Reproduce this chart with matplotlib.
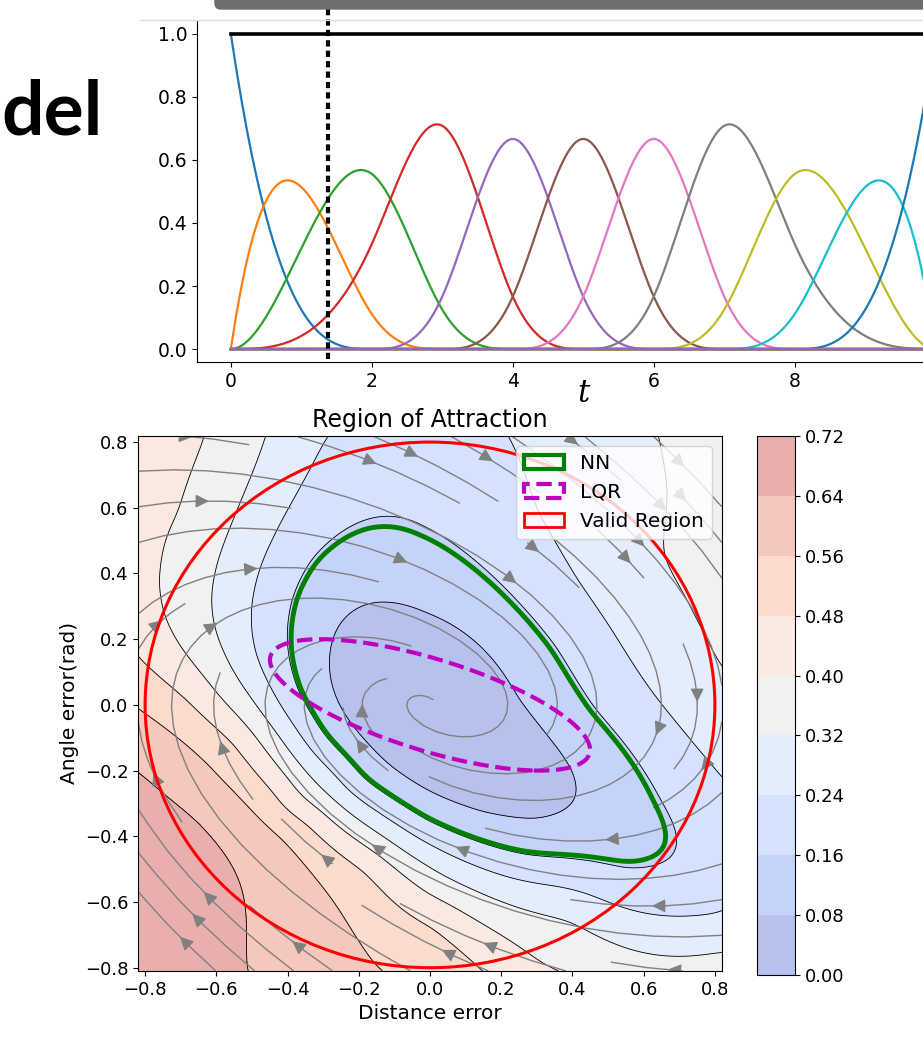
import numpy as np
import matplotlib.pyplot as plt
from matplotlib.patches import Patch, Circle, FancyBboxPatch
from matplotlib.lines import Line2D

# ---- top panel: cubic B-spline basis ----
knots = [0, 0, 0, 0, 2, 3, 4, 5, 6, 7, 8, 10, 10, 10, 10]
spline_deg = 3
t_cut = 1.38  # dashed marker

# ---- bottom panel: level curves (x, y) ----
levels = [0.0, 0.08, 0.16, 0.24, 0.32, 0.40, 0.48, 0.56, 0.64, 0.72]
lvl_008 = [(-0.118, 0.31), (-0.267, 0.228), (-0.28, 0.128), (-0.267, 0.024), (-0.16, -0.13),
           (-0.014, -0.26), (0.14, -0.33), (0.295, -0.36), (0.415, -0.29), (0.40, -0.19),
           (0.24, 0.006), (-0.014, 0.27)]
lvl_016 = [(-0.118, 0.57), (-0.23, 0.54), (-0.34, 0.45), (-0.39, 0.33), (-0.40, 0.21),
           (-0.38, 0.036), (-0.32, -0.106), (-0.20, -0.24), (-0.014, -0.355), (0.267, -0.46),
           (0.547, -0.52), (0.69, -0.47), (0.70, -0.41), (0.64, -0.29), (0.455, -0.015),
           (0.36, 0.18), (0.17, 0.40), (-0.014, 0.53)]
lvl_024 = [(-0.30, 0.82), (-0.44, 0.50), (-0.49, 0.35), (-0.50, 0.25), (-0.49, 0.146),
           (-0.43, 0.024), (-0.34, -0.106), (-0.26, -0.20), (-0.014, -0.42), (0.36, -0.55),
           (0.81, -0.66), (0.21, 0.82), (0.295, 0.58), (0.41, 0.38), (0.51, 0.23),
           (0.64, 0.015), (0.81, -0.22)]
lvl_032 = [(-0.46, 0.82), (-0.575, 0.50), (-0.60, 0.40), (-0.61, 0.30), (-0.58, 0.17),
           (-0.51, 0.036), (-0.42, -0.097), (-0.31, -0.25), (-0.014, -0.48), (0.40, -0.63),
           (0.81, -0.72), (0.645, 0.815), (0.63, 0.45), (0.735, 0.27), (0.81, 0.106)]
lvl_040 = [(-0.61, 0.82), (-0.69, 0.58), (-0.75, 0.50), (-0.77, 0.38), (-0.75, 0.27),
           (-0.70, 0.17), (-0.59, 0.015), (-0.47, -0.128), (-0.38, -0.29), (-0.26, -0.37),
           (-0.014, -0.58), (0.30, -0.80)]
lvl_048 = [(-0.81, 0.13), (-0.68, 0.024), (-0.54, -0.106), (-0.43, -0.25), (-0.33, -0.35),
           (-0.17, -0.49), (0.02, -0.66), (0.15, -0.80)]
lvl_056 = [(-0.81, -0.015), (-0.70, -0.106), (-0.59, -0.23), (-0.41, -0.40), (-0.30, -0.56),
           (-0.22, -0.69), (-0.17, -0.81)]
lvl_064 = [(-0.81, -0.21), (-0.75, -0.28), (-0.65, -0.35), (-0.55, -0.51), (-0.51, -0.65),
           (-0.51, -0.74), (-0.53, -0.81)]
# spot values (x, y, V)
spot_vals = [(0.0, 0.0, 0.0), (0.08, -0.08, 0.01), (-0.08, 0.08, 0.01), (0.15, -0.15, 0.03),
             (-0.81, -0.81, 0.70), (-0.81, -0.5, 0.69), (-0.65, -0.65, 0.67), (-0.4, -0.65, 0.60),
             (0.81, 0.81, 0.36), (0.81, 0.45, 0.34), (0.81, 0.3, 0.33), (0.81, -0.1, 0.27),
             (0.81, -0.45, 0.20), (0.81, -0.58, 0.21), (0.81, -0.81, 0.35), (0.55, -0.81, 0.36),
             (-0.81, 0.81, 0.44), (-0.81, 0.6, 0.43), (-0.81, 0.4, 0.43), (0.0, 0.81, 0.20),
             (0.4, 0.81, 0.27), (0.6, 0.65, 0.30)]

nn_level = 0.152
lqr_P = [[9.3, 14.3], [14.3, 47.0]]
valid_radius = 0.8
speed = 6.0
gains = [3.0, 3.0]


def bspline_basis(kn, deg, t):
    kn = np.asarray(kn, float)
    n = len(kn) - 1
    B = np.zeros((len(t), n))
    for i in range(n):
        B[:, i] = (t >= kn[i]) & (t < kn[i + 1])
    last = np.where(kn[:-1] < kn[-1])[0][-1]
    B[t >= kn[-1], last] = 1
    for d in range(1, deg + 1):
        Bn = np.zeros((len(t), n - d))
        for i in range(n - d):
            den1 = kn[i + d] - kn[i]
            den2 = kn[i + d + 1] - kn[i + 1]
            if den1 > 0:
                Bn[:, i] += (t - kn[i]) / den1 * B[:, i]
            if den2 > 0:
                Bn[:, i] += (kn[i + d + 1] - t) / den2 * B[:, i + 1]
        B = Bn
    return B


def tps_kernel(r):
    with np.errstate(divide='ignore', invalid='ignore'):
        k = r ** 2 * np.log(r)
    return np.nan_to_num(k)


def tps_surface(px, py, pv, gx, gy, smooth):
    # smoothing thin-plate spline through the read level points
    n = len(px)
    r = np.hypot(px[:, None] - px[None, :], py[:, None] - py[None, :])
    K = tps_kernel(r) + smooth * np.eye(n)
    P = np.column_stack([np.ones(n), px, py])
    M = np.zeros((n + 3, n + 3))
    M[:n, :n] = K
    M[:n, n:] = P
    M[n:, :n] = P.T
    rhs = np.concatenate([pv, np.zeros(3)])
    sol = np.linalg.solve(M, rhs)
    wts, a = sol[:n], sol[n:]
    fx_, fy_ = gx.ravel(), gy.ravel()
    out = np.empty(fx_.size)
    step = 20000
    for s in range(0, fx_.size, step):
        rr = np.hypot(fx_[s:s + step, None] - px[None, :], fy_[s:s + step, None] - py[None, :])
        out[s:s + step] = tps_kernel(rr) @ wts + a[0] + a[1] * fx_[s:s + step] + a[2] * fy_[s:s + step]
    return out.reshape(gx.shape)


W, H = 923, 1037
fig = plt.figure(figsize=(W / 100, H / 100), dpi=100)


def fx(px):
    return px / W


def fy(py):
    return 1 - py / H


# slide decorations
fig.patches.append(FancyBboxPatch((fx(215), fy(9)), 1.0, 0.02,
                                  boxstyle='round,pad=0,rounding_size=0.006',
                                  transform=fig.transFigure, color='#6e6e6e'))
fig.add_artist(Line2D([fx(140), 1], [fy(20), fy(20)], color='#dcdcdc', lw=1, zorder=5))
fig.text(fx(1), fy(134), 'del', ha='left', va='baseline', fontsize=54,
         fontweight='bold', family='Lato')

# ---------------- top: basis functions ----------------
ax1 = fig.add_axes([fx(197), fy(362), fx(923) - fx(197), fy(20) - fy(362)])
t = np.linspace(0, 10, 801)
Bs = bspline_basis(knots, spline_deg, t)
Bfull = np.zeros((len(t), len(knots)))
Bfull[:, :Bs.shape[1]] = Bs
for i in range(Bfull.shape[1]):
    ax1.plot(t, Bfull[:, i], lw=1.6)
ax1.plot(t, Bs.sum(axis=1), color='k', lw=2.6)
ax1.plot([t_cut, t_cut], [-0.03, 1.09], color='k', lw=3, ls=(0, (1.5, 1.0)), clip_on=False)
ax1.set_xlim(-0.48, 9.82)
ax1.set_ylim(-0.041, 1.044)
ax1.set_xticks([0, 2, 4, 6, 8])
ax1.set_yticks([0, 0.2, 0.4, 0.6, 0.8, 1.0])
ax1.tick_params(labelsize=13.5)
ax1.spines['top'].set_visible(False)
ax1.spines['right'].set_visible(False)
fig.text(fx(583), fy(393), 't', fontsize=22, style='italic', family='DejaVu Serif',
         ha='center', va='center')

# ---------------- bottom: region of attraction ----------------
pts = []
for lv, group in zip(levels[1:], [lvl_008, lvl_016, lvl_024, lvl_032, lvl_040,
                                  lvl_048, lvl_056, lvl_064]):
    for (x, y) in group:
        pts.append((x, y, lv))
pts += spot_vals
pts = np.array(pts)

xs = np.linspace(-0.82, 0.82, 300)
ys = np.linspace(-0.81, 0.82, 300)
X, Y = np.meshgrid(xs, ys)
V = tps_surface(pts[:, 0], pts[:, 1], pts[:, 2], X, Y, smooth=0.025)
V = np.clip(V, 0.0, 0.7199)

ax2 = fig.add_axes([fx(138), fy(971), 584 / W, (971 - 435.5) / H])
cf = ax2.contourf(X, Y, V, levels=levels, cmap='coolwarm', alpha=0.4)
ax2.contour(X, Y, V, levels=levels[1:-1], colors='k', linewidths=0.6)

U = speed * np.sin(Y)
Vy = -(gains[0] * X + gains[1] * Y)
ax2.streamplot(xs, ys, U, Vy, color='grey', linewidth=1.0, density=0.55, arrowsize=2)

ax2.add_patch(Circle((0, 0), valid_radius, fill=False, edgecolor='red', lw=2.2, zorder=4))
Vm = np.where(X ** 2 + Y ** 2 <= valid_radius ** 2, V, np.nan)
ax2.contour(X, Y, Vm, levels=[nn_level], colors='green', linewidths=3.5, zorder=5)
P = np.array(lqr_P)
Q = P[0, 0] * X ** 2 + 2 * P[0, 1] * X * Y + P[1, 1] * Y ** 2
ax2.contour(X, Y, Q, levels=[1.0], colors='m', linewidths=3, linestyles='--', zorder=5)

ax2.set_xlim(-0.82, 0.82)
ax2.set_ylim(-0.81, 0.82)
ticks = [-0.8, -0.6, -0.4, -0.2, 0.0, 0.2, 0.4, 0.6, 0.8]
ax2.set_xticks(ticks)
ax2.set_yticks(ticks)
ax2.tick_params(labelsize=13)
ax2.set_title('Region of Attraction', fontsize=17)
ax2.set_xlabel('Distance error', fontsize=14.5)
ax2.set_ylabel('Angle error(rad)', fontsize=14.5)

handles = [Patch(facecolor='none', edgecolor='green', lw=3, label='NN'),
           Patch(facecolor='none', edgecolor='m', lw=3, ls='--', label='LQR'),
           Patch(facecolor='none', edgecolor='red', lw=2, label='Valid Region')]
ax2.legend(handles=handles, loc='upper right', fontsize=14.5)

cax = fig.add_axes([fx(757), fy(975), 38 / W, (975 - 436) / H])
cb = fig.colorbar(cf, cax=cax, ticks=levels)
cb.ax.tick_params(labelsize=13)

fig.savefig('out.png', dpi=100)
